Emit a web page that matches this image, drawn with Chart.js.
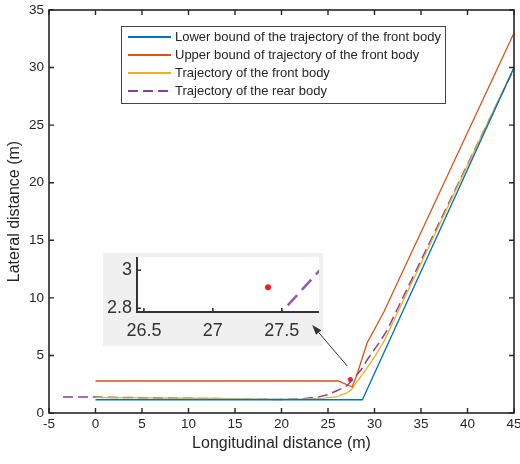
<!DOCTYPE html>
<html>
<head>
<meta charset="utf-8">
<script src="https://cdn.jsdelivr.net/npm/chart.js@4.4.1/dist/chart.umd.min.js"></script>
<style>
  html, body { margin: 0; padding: 0; background: #fff; }
  #wrap { position: relative; width: 520px; height: 464px; }
  #main { position: absolute; left: 0; top: 0; z-index: 2; }
  #zoom { position: absolute; left: 103px; top: 253px; z-index: 1; }
</style>
</head>
<body>
<div id="wrap">
  <canvas id="main" width="520" height="464"></canvas>
  <canvas id="zoom" width="220" height="93"></canvas>
</div>
<script>
const FONT = "'Liberation Sans', Arial, sans-serif";
const INK = "#262626";

// trajectories: longitudinal distance (m) -> lateral distance (m)
const lowerX = [0, 28.7, 45];
const lowerY = [1.15, 1.15, 30];

const upperX = [0, 26.1, 27.6, 28.1, 29.2, 31.0, 45];
const upperY = [2.78, 2.78, 2.26, 3.3, 6.08, 8.77, 33];

const frontX = [0, 5, 10, 15, 20, 22, 24.6, 26, 27, 27.5, 28, 28.9, 30, 31, 45];
const frontY = [1.33, 1.31, 1.28, 1.24, 1.2, 1.2, 1.3, 1.42, 1.75, 2.0, 2.6, 3.56, 4.87, 6.2, 30];

const rearX = [-3.5, 0, 5, 10, 15, 20, 22, 24, 25, 26, 27, 27.5, 27.8, 28.6, 29.2, 30.5, 31.3, 45];
const rearY = [1.38, 1.38, 1.33, 1.28, 1.22, 1.17, 1.22, 1.4, 1.6, 1.95, 2.35, 2.78, 3.02, 3.8, 4.6, 6.1, 7.1, 29.9];

// red marker near the turn
const markX = [27.4];
const markY = [2.91];

// arrow pointing from the turn to the zoomed view
const arrowFrom = [27.07, 4.08];
const arrowTo = [23.3, 7.65];

const xTicks = [-5, 0, 5, 10, 15, 20, 25, 30, 35, 40, 45];
const yTicks = [0, 5, 10, 15, 20, 25, 30, 35];
const zoomXTicks = [26.5, 27, 27.5];
const zoomYTicks = [2.8, 3];

const labels = [
    "Lower bound of the trajectory of the front body",
    "Upper bound of trajectory of the front body",
    "Trajectory of the front body",
    "Trajectory of the rear body",
];
const colors = ["#0072BD", "#D95319", "#EDB120", "#8a3d9e"];

const zip = (xs, ys) => xs.map((x, i) => ({ x: x, y: ys[i] }));

const lineSet = (i, xs, ys, extra) => Object.assign({
    label: labels[i],
    data: zip(xs, ys),
    borderColor: colors[i],
    backgroundColor: colors[i],
    borderWidth: 1.3,
    pointRadius: 0,
    tension: 0,
}, extra || {});

const markSet = (r) => ({
    label: "",
    data: zip(markX, markY),
    showLine: false,
    pointRadius: r,
    pointBorderWidth: 0,
    backgroundColor: "#ff1a1a",
    borderColor: "#ff1a1a",
});

const setTicks = (values) => (s) => { s.ticks = values.map((v) => ({ value: v })); };

// box with inward ticks on all four sides
const axesBox = {
    id: "axesBox",
    afterDatasetsDraw(chart) {
        const { ctx, chartArea: a, scales: { x, y } } = chart;
        ctx.save();
        ctx.strokeStyle = INK;
        ctx.lineWidth = 1.4;
        ctx.beginPath();
        xTicks.forEach((v) => {
            const px = x.getPixelForValue(v);
            ctx.moveTo(px, a.bottom); ctx.lineTo(px, a.bottom - 5);
            ctx.moveTo(px, a.top); ctx.lineTo(px, a.top + 5);
        });
        yTicks.forEach((v) => {
            const py = y.getPixelForValue(v);
            ctx.moveTo(a.left, py); ctx.lineTo(a.left + 5, py);
            ctx.moveTo(a.right, py); ctx.lineTo(a.right - 5, py);
        });
        ctx.stroke();
        ctx.lineWidth = 1.6;
        ctx.strokeRect(a.left, a.top, a.right - a.left, a.bottom - a.top);
        ctx.restore();
    },
};

const arrow = {
    id: "arrow",
    afterDatasetsDraw(chart) {
        const { ctx, scales: { x, y } } = chart;
        const x0 = x.getPixelForValue(arrowFrom[0]), y0 = y.getPixelForValue(arrowFrom[1]);
        const x1 = x.getPixelForValue(arrowTo[0]), y1 = y.getPixelForValue(arrowTo[1]);
        const ang = Math.atan2(y1 - y0, x1 - x0);
        const len = 10, half = 3.5;
        const bx = x1 - len * Math.cos(ang), by = y1 - len * Math.sin(ang);
        ctx.save();
        ctx.strokeStyle = "#333";
        ctx.fillStyle = "#333";
        ctx.lineWidth = 1;
        ctx.beginPath();
        ctx.moveTo(x0, y0); ctx.lineTo(bx, by);
        ctx.stroke();
        ctx.beginPath();
        ctx.moveTo(x1, y1);
        ctx.lineTo(bx + half * Math.sin(ang), by - half * Math.cos(ang));
        ctx.lineTo(bx - half * Math.sin(ang), by + half * Math.cos(ang));
        ctx.closePath();
        ctx.fill();
        ctx.restore();
    },
};

const boxLegend = {
    id: "boxLegend",
    afterDraw(chart) {
        const ctx = chart.ctx;
        const left = 121, top = 26, w = 324, h = 77, row = 18;
        ctx.save();
        ctx.fillStyle = "#fff";
        ctx.fillRect(left, top, w, h);
        ctx.strokeStyle = "#444";
        ctx.lineWidth = 1;
        ctx.strokeRect(left + 0.5, top + 0.5, w, h);
        ctx.font = "13px " + FONT;
        ctx.textBaseline = "middle";
        ctx.fillStyle = INK;
        chart.data.datasets.filter((d) => d.showLine !== false).forEach((d, i) => {
            const cy = top + 11 + i * row;
            ctx.strokeStyle = d.borderColor;
            ctx.lineWidth = 2;
            ctx.setLineDash(d.borderDash || []);
            ctx.beginPath();
            ctx.moveTo(128, cy); ctx.lineTo(171, cy);
            ctx.stroke();
            ctx.setLineDash([]);
            ctx.fillText(d.label, 175, cy);
        });
        ctx.restore();
    },
};

new Chart(document.getElementById("main"), {
    type: "line",
    data: {
        datasets: [
            lineSet(0, lowerX, lowerY),
            lineSet(1, upperX, upperY),
            lineSet(2, frontX, frontY),
            lineSet(3, rearX, rearY, { borderWidth: 1.5, borderDash: [10, 5] }),
            markSet(2.5),
        ],
    },
    options: {
        responsive: false,
        animation: false,
        events: [],
        layout: { padding: { top: 10, right: 6, left: 0, bottom: 0 } },
        plugins: { legend: { display: false }, tooltip: { enabled: false } },
        scales: {
            x: {
                type: "linear",
                min: -5,
                max: 45,
                afterBuildTicks: setTicks(xTicks),
                grid: { display: false, drawTicks: false },
                border: { display: false },
                ticks: { color: INK, font: { family: FONT, size: 13.5 }, padding: 3, maxRotation: 0, autoSkip: false },
                title: {
                    display: true,
                    text: "Longitudinal distance (m)",
                    color: INK,
                    font: { family: FONT, size: 16 },
                    padding: { top: 0, bottom: 11 },
                },
                afterFit: (s) => { s.height = 51; s.paddingLeft = 0; s.paddingRight = 0; },
            },
            y: {
                type: "linear",
                min: 0,
                max: 35,
                afterBuildTicks: setTicks(yTicks),
                grid: { display: false, drawTicks: false },
                border: { display: false },
                ticks: { color: INK, font: { family: FONT, size: 13.5 }, padding: 5 },
                title: {
                    display: true,
                    text: "Lateral distance (m)",
                    color: INK,
                    font: { family: FONT, size: 16 },
                    padding: { top: 5, bottom: 0 },
                },
                afterFit: (s) => { s.width = 49; s.paddingTop = 0; s.paddingBottom = 0; },
            },
        },
    },
    plugins: [axesBox, arrow, boxLegend],
});

// magnified view of the turn
const zoomFrame = {
    id: "zoomFrame",
    beforeDraw(chart) {
        const { ctx, chartArea: a, width, height } = chart;
        ctx.save();
        ctx.fillStyle = "#f0f0f0";
        ctx.fillRect(0, 0, width, height);
        ctx.fillStyle = "#fff";
        ctx.fillRect(a.left, a.top, a.right - a.left, a.bottom - a.top);
        ctx.restore();
    },
    afterDatasetsDraw(chart) {
        const { ctx, chartArea: a, scales: { x, y } } = chart;
        ctx.save();
        ctx.strokeStyle = "#333";
        ctx.lineWidth = 1.6;
        ctx.beginPath();
        zoomXTicks.forEach((v) => {
            const px = x.getPixelForValue(v);
            ctx.moveTo(px, a.bottom); ctx.lineTo(px, a.bottom - 4);
        });
        zoomYTicks.forEach((v) => {
            const py = y.getPixelForValue(v);
            ctx.moveTo(a.left, py); ctx.lineTo(a.left + 4, py);
        });
        ctx.stroke();
        ctx.lineWidth = 2;
        ctx.beginPath();
        ctx.moveTo(a.left, a.top);
        ctx.lineTo(a.left, a.bottom);
        ctx.lineTo(a.right, a.bottom);
        ctx.stroke();
        ctx.restore();
    },
};

new Chart(document.getElementById("zoom"), {
    type: "line",
    data: {
        datasets: [
            lineSet(3, rearX, rearY, { borderWidth: 2.5, borderColor: "#9a5ab0", borderDash: [14, 7] }),
            markSet(3),
        ],
    },
    options: {
        responsive: false,
        animation: false,
        events: [],
        layout: { padding: 0 },
        plugins: { legend: { display: false }, tooltip: { enabled: false } },
        scales: {
            x: {
                type: "linear",
                min: 26.45,
                max: 27.77,
                afterBuildTicks: setTicks(zoomXTicks),
                grid: { display: false, drawTicks: false },
                border: { display: false },
                ticks: { color: "#333", font: { family: FONT, size: 18 }, padding: 8, maxRotation: 0, callback: (v) => String(v) },
                afterFit: (s) => { s.height = 34; s.paddingLeft = 0; s.paddingRight = 0; },
            },
            y: {
                type: "linear",
                min: 2.78,
                max: 3.07,
                afterBuildTicks: setTicks(zoomYTicks),
                grid: { display: false, drawTicks: false },
                border: { display: false },
                ticks: { color: "#333", font: { family: FONT, size: 18 }, padding: 5, callback: (v) => String(v) },
                afterFit: (s) => { s.width = 34; s.paddingTop = 0; s.paddingBottom = 0; },
            },
        },
    },
    plugins: [zoomFrame],
});
</script>
</body>
</html>
